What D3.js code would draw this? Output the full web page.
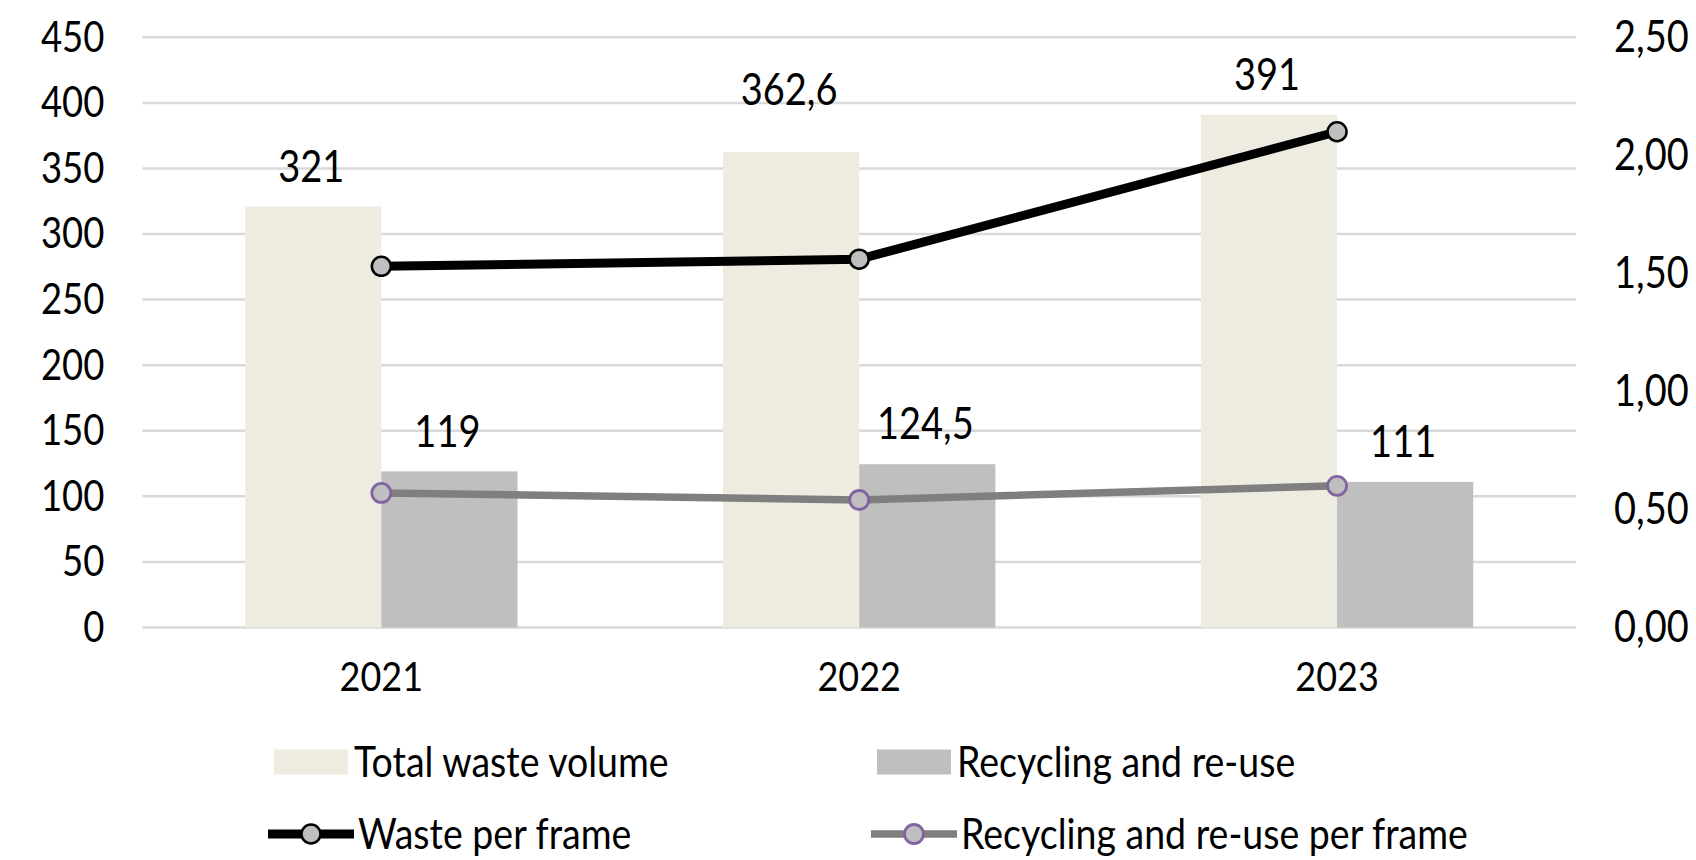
<!DOCTYPE html>
<html>
<head>
<meta charset="utf-8">
<script src="https://cdn.jsdelivr.net/npm/d3@7"></script>
<style>
  html, body { margin: 0; padding: 0; background: #fff; }
  svg text {
    font-family: Lato, "Open Sans", sans-serif;
    fill: #000;
    transform-box: fill-box;
    transform-origin: center;
    transform: scaleY(1.15);
  }
</style>
</head>
<body>
<svg id="chart" width="1696" height="860"></svg>
<script>
// ---- data ----
const years = ["2021", "2022", "2023"];
const totalWaste = [321, 362.6, 391];
const recycling = [119, 124.5, 111];
const wastePerFrame = [1.53, 1.56, 2.10];
const recyclingPerFrame = [0.57, 0.54, 0.60];
const leftTicks = [0, 50, 100, 150, 200, 250, 300, 350, 400, 450];
const rightTicks = [0, 0.5, 1, 1.5, 2, 2.5];
const barSeries = ["Total waste volume", "Recycling and re-use"];
const lineSeries = ["Waste per frame", "Recycling and re-use per frame"];

// ---- styling ----
const colors = {
  total: "#EEECE1",
  recycle: "#BFBFBF",
  grid: "#D9D9D9",
  wasteLine: "#000000",
  recycleLine: "#7F7F7F",
  markerFill: "#BFBFBF",
  wasteMarkerStroke: "#000000",
  recycleMarkerStroke: "#8064A2"
};

const plot = { left: 142.4, right: 1576, top: 37.3, bottom: 627.5 };
const svg = d3.select("#chart");

// comma as decimal separator
const locale = d3.formatLocale({ decimal: ",", thousands: ".", grouping: [3], currency: ["", ""] });
const fmtRight = locale.format(".2f");
const fmtValue = v => String(v).replace(".", ",");

// ---- scales ----
const x0 = d3.scaleBand()
  .domain(years)
  .range([plot.left, plot.right])
  .paddingInner(0.43)
  .paddingOuter(0.215);

const x1 = d3.scaleBand()
  .domain(barSeries)
  .range([0, x0.bandwidth()]);

const yLeft = d3.scaleLinear().domain([0, 450]).range([plot.bottom, plot.top]);
const yRight = d3.scaleLinear().domain([0, 2.5]).range([plot.bottom, plot.top]);

const cx = y => x0(y) + x0.bandwidth() / 2;

// ---- gridlines ----
svg.append("g")
  .selectAll("line")
  .data(leftTicks)
  .join("line")
  .attr("x1", plot.left)
  .attr("x2", plot.right)
  .attr("y1", d => yLeft(d))
  .attr("y2", d => yLeft(d))
  .attr("stroke", colors.grid)
  .attr("stroke-width", 2.5);

// ---- bars ----
const barData = years.map((y, i) => ({
  year: y,
  values: [
    { key: barSeries[0], value: totalWaste[i], fill: colors.total },
    { key: barSeries[1], value: recycling[i], fill: colors.recycle }
  ]
}));

const groups = svg.append("g")
  .selectAll("g")
  .data(barData)
  .join("g")
  .attr("transform", d => `translate(${x0(d.year)},0)`);

groups.selectAll("rect")
  .data(d => d.values)
  .join("rect")
  .attr("x", d => x1(d.key))
  .attr("width", x1.bandwidth())
  .attr("y", d => yLeft(d.value))
  .attr("height", d => yLeft(0) - yLeft(d.value))
  .attr("fill", d => d.fill);

// ---- lines ----
const lineGen = d3.line()
  .x(d => cx(d.year))
  .y(d => yRight(d.value));

const lineDefs = [
  { key: lineSeries[0], values: wastePerFrame, stroke: colors.wasteLine, width: 9, mStroke: colors.wasteMarkerStroke, mWidth: 2.5 },
  { key: lineSeries[1], values: recyclingPerFrame, stroke: colors.recycleLine, width: 7.5, mStroke: colors.recycleMarkerStroke, mWidth: 2.8 }
];

// draw recycling line first so the waste line sits on top
[lineDefs[1], lineDefs[0]].forEach(def => {
  const pts = years.map((y, i) => ({ year: y, value: def.values[i] }));
  svg.append("path")
    .datum(pts)
    .attr("d", lineGen)
    .attr("fill", "none")
    .attr("stroke", def.stroke)
    .attr("stroke-width", def.width)
    .attr("stroke-linejoin", "round");
  svg.append("g")
    .selectAll("circle")
    .data(pts)
    .join("circle")
    .attr("cx", d => cx(d.year))
    .attr("cy", d => yRight(d.value))
    .attr("r", 9.5)
    .attr("fill", colors.markerFill)
    .attr("stroke", def.mStroke)
    .attr("stroke-width", def.mWidth);
});

// ---- value labels on bars ----
const labelLift = { "2022|Total waste volume": 22 };
groups.selectAll("text.val")
  .data(d => d.values.map(v => ({ ...v, year: d.year })))
  .join("text")
  .attr("class", "val")
  .attr("x", d => x1(d.key) + x1.bandwidth() / 2 - 2)
  .attr("y", d => yLeft(d.value) - 27 - (labelLift[d.year + "|" + d.key] || 0))
  .attr("text-anchor", "middle")
  .attr("font-size", 38)
  .text(d => fmtValue(d.value));

// ---- axes ----
const axisLeft = svg.append("g")
  .attr("transform", `translate(${plot.left},0)`)
  .call(d3.axisLeft(yLeft).tickValues(leftTicks).tickSize(0).tickPadding(38).tickFormat(d3.format("d")));
const axisRight = svg.append("g")
  .attr("transform", `translate(${plot.right},0)`)
  .call(d3.axisRight(yRight).tickValues(rightTicks).tickSize(0).tickPadding(38).tickFormat(fmtRight));
const axisBottom = svg.append("g")
  .attr("transform", `translate(0,${plot.bottom})`)
  .call(d3.axisBottom(x0).tickSize(0).tickPadding(36));

[axisLeft, axisRight, axisBottom].forEach(a => {
  a.select(".domain").remove();
  a.selectAll("text").attr("font-family", null).style("fill", "#000");
});
axisLeft.selectAll("text").attr("font-size", 36.5);
axisRight.selectAll("text").attr("font-size", 38);
axisBottom.selectAll("text").attr("font-size", 36).attr("dy", "0.71em");

// ---- legend ----
const legend = svg.append("g");
const legendCols = [270, 873];
const legendRows = [762, 834];

barSeries.forEach((name, i) => {
  const gx = legendCols[i], gy = legendRows[0];
  legend.append("rect")
    .attr("x", gx + 4).attr("y", gy - 12.5)
    .attr("width", 74).attr("height", 25)
    .attr("fill", i === 0 ? colors.total : colors.recycle);
  legend.append("text")
    .attr("x", gx + 84).attr("y", gy)
    .attr("dy", "0.35em")
    .attr("font-size", 37.5)
    .text(name);
});

lineDefs.forEach((def, i) => {
  const gx = legendCols[i], gy = legendRows[1];
  legend.append("line")
    .attr("x1", gx - 2).attr("x2", gx + 84)
    .attr("y1", gy).attr("y2", gy)
    .attr("stroke", def.stroke)
    .attr("stroke-width", def.width);
  legend.append("circle")
    .attr("cx", gx + 41).attr("cy", gy).attr("r", 9.5)
    .attr("fill", colors.markerFill)
    .attr("stroke", def.mStroke)
    .attr("stroke-width", def.mWidth);
  legend.append("text")
    .attr("x", gx + 88).attr("y", gy)
    .attr("dy", "0.35em")
    .attr("font-size", 37.5)
    .text(def.key);
});
</script>
</body>
</html>
